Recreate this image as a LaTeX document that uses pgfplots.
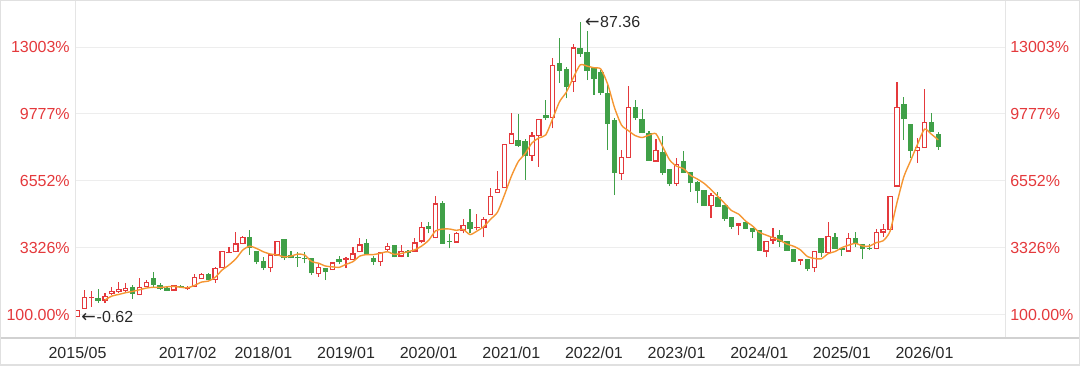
\documentclass[border=0pt]{standalone}
\usepackage{fontspec}
\setmainfont{Liberation Sans}
\newfontfamily\arrowfont{DejaVu Sans}
\usepackage{pgfplots}
\usepackage{pgfplotstable}
\pgfplotsset{compat=1.18}
\definecolor{cred}{RGB}{228,57,60}
\definecolor{cgreen}{RGB}{64,160,72}
\definecolor{corange}{RGB}{245,150,50}
\definecolor{ctext}{RGB}{40,40,40}

% red (rising) candles: index, open, high, low, close
\pgfplotstableread{
i O H L C
0 -0.62 1.5 -0.62 1.5
1 1.8 7.5 1.8 5.4
2 5.1 7.3 2.4 5.5
4 4.3 6.7 3.6 5.8
5 6.3 8.3 6.0 7.3
6 6.8 9.9 6.6 7.8
7 7.2 9.6 7.0 8.1
9 5.9 11.0 5.9 8.3
10 8.3 10.4 8.3 9.8
14 7.3 9.0 7.2 8.9
16 7.9 8.7 7.6 8.3
17 8.3 12.2 8.3 11.3
18 10.8 12.6 10.8 12.2
20 10.4 14.3 9.6 14.1
21 13.9 19.2 13.9 19.1
22 18.4 20.4 18.4 18.9
23 18.7 24.7 18.7 21.4
24 21.1 23.7 21.1 23.4
28 14.1 18.1 12.7 18.1
29 17.7 22.1 17.7 22.1
35 12.1 15.1 11.4 14.4
37 13.4 15.7 13.4 15.7
39 16.4 17.4 14.1 16.9
40 16.4 20.2 16.4 18.4
41 18.7 23.1 18.7 21.1
44 15.7 18.9 14.7 18.9
45 19.4 21.4 18.9 20.6
47 17.4 20.9 17.2 19.2
49 18.9 22.9 18.9 21.7
50 21.9 27.9 21.4 26.4
52 22.9 35.5 22.9 33.3
55 21.6 24.9 21.6 24.4
56 25.2 28.7 24.4 26.9
58 25.9 30.1 25.4 26.4
59 25.9 29.3 23.2 28.6
60 29.9 37.8 29.9 35.5
61 36.5 43.1 36.5 37.6
62 37.8 51.0 37.8 51.0
63 51.0 60.4 51.0 54.2
66 47.5 54.7 46.0 53.6
67 53.4 58.5 44.2 58.5
69 58.7 76.6 55.7 74.6
72 69.6 80.9 66.7 79.9
79 42.1 49.3 40.3 47.3
80 46.8 68.4 46.8 62.2
84 45.8 52.4 45.8 49.3
87 39.1 46.8 38.5 45.1
92 32.5 36.4 28.9 35.8
96 26.7 27.4 23.8 27.4
100 18.9 22.2 17.2 22.2
101 22.2 25.9 21.2 23.4
105 16.0 16.6 14.9 16.6
107 13.9 19.1 12.8 19.1
109 18.4 27.8 18.4 23.6
112 18.9 24.4 18.9 22.9
116 19.6 25.6 19.6 24.7
117 24.6 27.2 23.4 25.6
118 25.4 35.5 25.4 35.5
119 38.3 69.6 38.3 62.2
122 49.0 52.8 45.5 50.1
123 49.8 67.4 49.8 57.7
}\redtab

% green (falling) candles: index, open, high, low, close
\pgfplotstableread{
i O H L C
3 5.2 7.9 3.6 4.3
8 8.4 9.0 4.8 6.2
11 11.1 12.8 8.3 9.0
12 9.0 9.6 7.5 7.7
13 8.1 8.3 7.1 7.3
15 8.7 8.9 8.3 8.4
19 12.2 12.4 10.3 10.4
25 23.4 25.4 17.9 19.9
26 19.1 19.1 15.1 15.7
27 16.1 17.4 13.4 13.9
30 22.6 22.6 16.4 16.9
31 17.9 19.1 16.9 16.9
32 17.1 18.9 14.4 16.9
33 17.1 18.7 15.4 16.7
34 17.1 17.1 11.9 12.4
36 14.1 14.1 10.4 12.7
38 16.6 17.7 15.1 15.9
42 21.6 22.7 17.9 17.9
43 17.1 17.6 14.9 15.9
46 20.8 20.8 17.2 17.2
48 19.1 19.4 17.4 18.6
51 26.6 27.9 24.4 25.6
53 33.5 34.1 21.2 21.2
54 22.2 24.2 19.9 21.9
57 27.9 31.6 24.4 25.6
64 52.2 59.9 50.1 50.5
65 51.9 52.5 40.3 47.5
68 59.7 64.2 58.2 58.7
70 75.1 82.6 69.2 72.9
71 73.3 74.0 64.7 68.1
73 79.8 87.36 77.1 77.8
74 78.6 84.9 70.1 72.8
75 73.6 74.0 65.7 70.4
76 72.6 73.1 65.7 66.2
77 66.2 68.7 49.3 57.0
78 58.2 58.8 35.8 42.5
81 62.2 64.2 58.2 58.7
82 58.4 61.4 54.2 54.2
83 54.2 54.8 46.1 46.1
85 48.6 53.4 41.8 42.5
86 43.5 43.5 38.5 39.1
88 45.9 49.0 42.5 42.5
89 42.8 42.8 36.8 39.3
90 39.8 40.0 33.3 37.0
91 37.3 37.3 32.5 32.5
93 35.3 36.8 32.3 32.3
94 32.7 32.7 28.1 28.7
95 29.3 29.3 25.8 26.4
97 27.8 27.8 25.6 25.6
98 26.1 26.1 22.9 24.9
99 25.4 25.4 19.2 19.2
102 23.9 25.4 20.4 21.9
103 22.2 22.2 19.2 19.2
104 19.6 19.6 15.9 15.9
106 16.7 16.7 13.1 13.6
108 23.1 23.1 17.4 18.6
110 23.4 24.4 19.8 19.8
111 19.9 19.9 17.7 19.4
113 23.1 24.7 20.4 21.2
114 21.1 21.1 16.6 19.7
115 19.9 21.2 19.4 19.6
120 63.0 65.2 52.2 58.4
121 56.9 56.9 46.8 49.0
124 57.5 60.2 54.7 54.7
125 54.0 54.7 49.3 50.1
}\greentab

% moving average line
\pgfplotstableread{
i m
4 4.50
5 5.66
6 6.14
7 6.66
8 7.04
9 7.54
10 8.04
11 8.28
12 8.20
13 8.42
14 8.54
15 8.26
16 8.12
17 8.84
18 9.82
19 10.12
20 11.26
21 13.42
22 14.94
23 16.78
24 19.38
25 20.54
26 19.86
27 18.86
28 18.20
29 17.94
30 17.34
31 17.58
32 18.18
33 17.90
34 15.96
35 15.46
36 14.62
37 14.38
38 14.22
39 15.12
40 15.92
41 17.60
42 18.04
43 18.04
44 18.44
45 18.88
46 18.10
47 18.36
48 18.90
49 19.46
50 20.62
51 22.30
52 25.12
53 25.64
54 25.68
55 25.28
56 25.54
57 24.00
58 25.04
59 26.38
60 28.60
61 30.74
62 35.82
63 41.38
64 45.76
65 48.16
66 51.36
67 52.86
68 53.76
69 58.58
70 63.66
71 66.56
72 70.84
73 74.66
74 74.30
75 73.80
76 73.42
77 68.84
78 61.78
79 56.68
80 55.04
81 53.54
82 52.98
83 53.70
84 54.10
85 50.16
86 46.24
87 44.42
88 43.70
89 41.70
90 40.60
91 39.28
92 37.42
93 35.38
94 33.26
95 31.14
96 30.12
97 28.08
98 26.60
99 24.70
100 23.86
101 23.06
102 22.32
103 21.18
104 20.52
105 19.40
106 17.44
107 16.88
108 16.76
109 18.30
110 18.94
111 20.10
112 20.86
113 21.38
114 20.60
115 20.56
116 21.62
117 22.16
118 25.02
119 33.52
120 41.28
121 46.14
122 51.04
123 55.48
124 53.98
125 52.26
}\matab

\pgfplotsset{
  common/.style={
    at={(0pt,0pt)}, anchor=south west,
    scale only axis, width=697.5pt, height=253.5pt,
    xmin=-0.363, xmax=134.69, ymin=-6.87, ymax=94.03,
    axis line style={draw=none},
    major tick length=0pt,
    ytick={0,20,40,60,80},
    yticklabels={100.00\%,3326\%,6552\%,9777\%,13003\%},
    ticklabel style={font=\fontsize{12}{14}\selectfont},
    clip=false,
  }
}

\begin{document}
\begin{tikzpicture}
\begin{axis}[common,
  ymajorgrids, grid style={color=black!7, line width=0.75pt},
  yticklabel style={text=cred, inner sep=0pt, anchor=east, xshift=-3.75pt},
  xtick={0,16,27,39,51,63,75,87,99,111,123},
  xticklabels={2015/05,2017/02,2018/01,2019/01,2020/01,2021/01,2022/01,2023/01,2024/01,2025/01,2026/01},
  xticklabel style={text=ctext, inner sep=0pt, anchor=north, yshift=-6.75pt},
]
% wicks
\addplot[draw=none, mark=none, error bars/.cd, y dir=plus, y explicit, error mark=none,
  error bar style={draw=cred, line width=0.85pt}]
  table[x=i, y=L, y error expr={\thisrow{H}-\thisrow{L}}] {\redtab};
\addplot[draw=none, mark=none, error bars/.cd, y dir=plus, y explicit, error mark=none,
  error bar style={draw=cgreen, line width=0.85pt}]
  table[x=i, y=L, y error expr={\thisrow{H}-\thisrow{L}}] {\greentab};
% green bodies
\addplot[draw=none, mark=none, error bars/.cd, y dir=plus, y explicit, error mark=none,
  error bar style={draw=cgreen, line width=4.1pt}]
  table[x=i, y=C, y error expr={max(\thisrow{O}-\thisrow{C},0.3)}] {\greentab};
% red hollow bodies
\addplot[draw=none, mark=none, error bars/.cd, y dir=plus, y explicit, error mark=none,
  error bar style={draw=cred, line width=4.1pt}]
  table[x=i, y=O, y error expr={max(\thisrow{C}-\thisrow{O},0.3)}] {\redtab};
\addplot[draw=none, mark=none, error bars/.cd, y dir=plus, y explicit, error mark=none,
  error bar style={draw=white, line width=2.3pt}]
  table[x=i, y expr={\thisrow{O}+0.36}, y error expr={max(\thisrow{C}-\thisrow{O}-0.72,0)}] {\redtab};
% moving average
\addplot[corange, line width=1.05pt, smooth, tension=0.4, mark=none] table[x=i, y=m] {\matab};
% annotations
\node[anchor=west, inner sep=0pt, text=ctext, font=\fontsize{12}{14}\selectfont, xshift=3.4pt]
  at (axis cs:73,87.36) {{\arrowfont\fontsize{13}{14}\selectfont ←}\kern0.5pt 87.36};
\node[anchor=west, inner sep=0pt, text=ctext, font=\fontsize{12}{14}\selectfont, xshift=2.8pt]
  at (axis cs:0,-0.62) {{\arrowfont\fontsize{13}{14}\selectfont ←}\kern0.5pt -0.62};
\end{axis}
\begin{axis}[common,
  axis x line=none, axis y line*=right,
  yticklabel style={text=cred, inner sep=0pt, anchor=west, xshift=3.75pt},
]
\end{axis}
% frame lines
\draw[black!10, line width=0.75pt] (0pt,0pt) -- (0pt,253.5pt);
\draw[black!10, line width=0.75pt] (697.5pt,0pt) -- (697.5pt,253.5pt);
\draw[black!18, line width=1.2pt] (-56.25pt,0pt) -- (753.75pt,0pt);
\draw[black!12, line width=1.5pt] (-56.25pt,-20.25pt) rectangle (753.75pt,253.5pt);
\pgfresetboundingbox
\path[use as bounding box] (-56.25pt,-20.25pt) rectangle (753.75pt,253.5pt);
\end{tikzpicture}
\end{document}
